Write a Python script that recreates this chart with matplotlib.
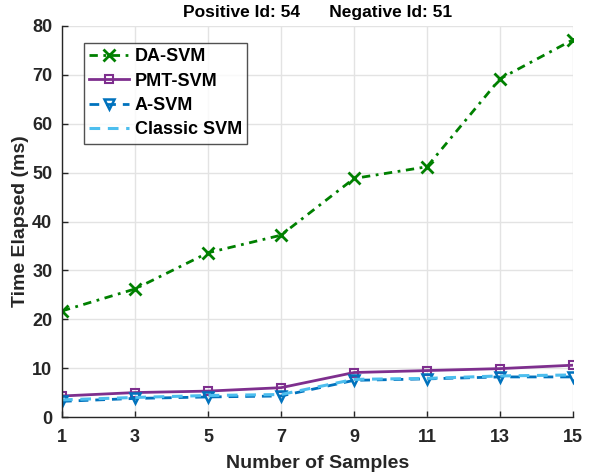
import numpy as np
import matplotlib
matplotlib.use("Agg")
import matplotlib.pyplot as plt

plt.rcParams['font.family'] = ['Liberation Sans', 'DejaVu Sans']
plt.rcParams['font.weight'] = 'bold'

samples = [1, 3, 5, 7, 9, 11, 13, 15]
da_svm = [21.7, 26.2, 33.6, 37.2, 48.8, 51.2, 69.2, 77.2]
pmt_svm = [4.3, 5.0, 5.3, 6.0, 9.1, 9.5, 9.9, 10.6]
a_svm = [3.2, 3.8, 4.1, 4.3, 7.5, 7.8, 8.2, 8.2]
classic_svm = [3.5, 4.0, 4.4, 4.6, 7.7, 7.9, 8.4, 8.6]

W, H = 589, 474
TEXT = '#262626'
fig = plt.figure(figsize=(W / 100, H / 100), dpi=100)
ax = fig.add_axes([62 / W, (H - 417) / H, (573 - 62) / W, (417 - 26) / H])

ax.plot(samples, da_svm, color=(0, 0.5, 0), linestyle=(0, (3, 2, 1, 2)), marker='x',
        markersize=8, markeredgewidth=2, linewidth=2, label='DA-SVM')
ax.plot(samples, pmt_svm, color=(0.494, 0.184, 0.556), linestyle='-', marker='s',
        markersize=5.5, markerfacecolor='none', markeredgewidth=1.5, linewidth=2, label='PMT-SVM')
ax.plot(samples, a_svm, color=(0, 0.447, 0.741), linestyle=(0, (3.5, 2.5)), marker='v',
        markersize=7.5, markerfacecolor='none', markeredgewidth=1.8, linewidth=2, label='A-SVM')
ax.plot(samples, classic_svm, color=(0.301, 0.745, 0.933), linestyle=(0, (3.5, 2.5)),
        linewidth=2.2, label='Classic SVM')

ax.set_xlim(1, 15)
ax.set_ylim(0, 80)
ax.set_xticks(samples)
ax.set_yticks(np.arange(0, 81, 10))
ax.grid(True, color='#e3e3e3', linewidth=1)
ax.set_axisbelow(True)
ax.spines['top'].set_visible(False)
ax.spines['right'].set_visible(False)
for s in ('left', 'bottom'):
    ax.spines[s].set_color(TEXT)
    ax.spines[s].set_linewidth(1)
ax.tick_params(direction='in', labelsize=13, colors=TEXT, length=4, width=1)
ax.tick_params(axis='x', pad=9)
ax.tick_params(axis='y', pad=7)
for lbl in ax.get_xticklabels() + ax.get_yticklabels():
    lbl.set_fontweight('bold')

ax.set_xlabel('Number of Samples', fontsize=14, fontweight='bold', color=TEXT, labelpad=6)
ax.set_ylabel('Time Elapsed (ms)', fontsize=14, fontweight='bold', color=TEXT, labelpad=2)
fig.text(0.5 * (62 + 573) / W, 1 - 12 / H, 'Positive Id: 54      Negative Id: 51',
         fontsize=12.5, fontweight='bold', color='black', ha='center', va='center')

leg = ax.legend(loc='upper left', bbox_to_anchor=(22 / 511, 1 - 17 / 391), fontsize=13,
                handlelength=2.2, frameon=True, fancybox=False, borderpad=0.3,
                labelspacing=0.4, handletextpad=0.3, borderaxespad=0)
leg.get_frame().set_edgecolor(TEXT)
leg.get_frame().set_linewidth(1)
for t in leg.get_texts():
    t.set_fontweight('bold')
    t.set_color('black')

fig.savefig('out.png', dpi=100)
